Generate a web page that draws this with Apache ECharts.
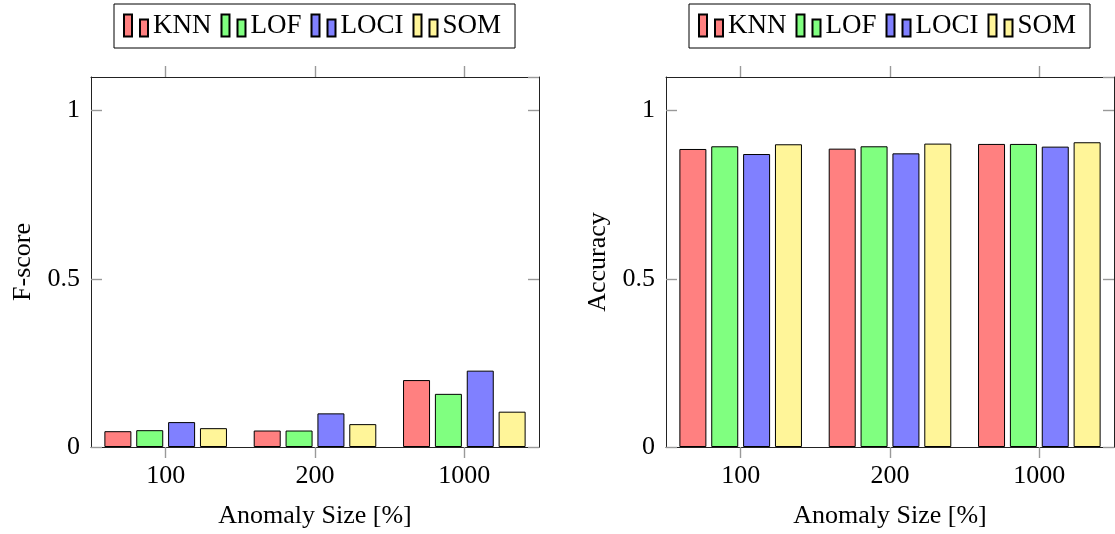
<!DOCTYPE html>
<html>
<head>
<meta charset="utf-8">
<script src="https://cdn.jsdelivr.net/npm/echarts@6/dist/echarts.min.js"></script>
<style>
html,body{margin:0;padding:0;background:#fff;}
#chart{width:1115px;height:534px;}
</style>
</head>
<body>
<div id="chart"></div>
<script>
const categories = ['100', '200', '1000'];
const seriesNames = ['KNN', 'LOF', 'LOCI', 'SOM'];
const seriesColors = ['#ff8080', '#80ff80', '#8080ff', '#fff599'];
const fscoreKNN  = [0.047, 0.049, 0.199];
const fscoreLOF  = [0.050, 0.049, 0.158];
const fscoreLOCI = [0.074, 0.100, 0.227];
const fscoreSOM  = [0.056, 0.068, 0.105];
const accKNN  = [0.886, 0.887, 0.901];
const accLOF  = [0.894, 0.894, 0.901];
const accLOCI = [0.871, 0.873, 0.893];
const accSOM  = [0.900, 0.902, 0.906];
const yTicksMin = 0, yTicksMax = 1.1, yTickStep = 0.5;
const xAxisTitle = 'Anomaly Size [%]';
const yTitles = ['F-score', 'Accuracy'];

const FONT = '"Liberation Serif", "DejaVu Serif", serif';
const FS = 26;
const TICK = {color: '#999', width: 1.4};
const panels = [
  {left: 91, data: [fscoreKNN, fscoreLOF, fscoreLOCI, fscoreSOM]},
  {left: 666, data: [accKNN, accLOF, accLOCI, accSOM]}
];
const legendIcon = 'path://M0,0 H8 V22 H0 Z M16,5 H24 V22 H16 Z';

const grid = [], xAxis = [], yAxis = [], series = [], legend = [];
panels.forEach((p, i) => {
  grid.push({left: p.left, top: 77, width: 448, height: 370, containLabel: false});
  xAxis.push({
    type: 'category', gridIndex: i, data: categories, position: 'bottom',
    name: xAxisTitle, nameLocation: 'middle', nameGap: 56,
    nameTextStyle: {fontFamily: FONT, fontSize: FS, color: '#000'},
    axisLine: {onZero: false, lineStyle: {color: '#222', width: 1}},
    axisTick: {show: true, alignWithLabel: true, interval: 0, inside: false, length: 11, lineStyle: TICK},
    axisLabel: {fontFamily: FONT, fontSize: FS, color: '#000', margin: 16, interval: 0},
    splitLine: {show: false}
  });
  xAxis.push({
    type: 'category', gridIndex: i, data: categories, position: 'top',
    axisLine: {onZero: false, lineStyle: {color: '#222', width: 1}},
    axisTick: {show: true, alignWithLabel: true, interval: 0, inside: false, length: 11, lineStyle: TICK},
    axisLabel: {show: true, interval: 0, color: 'rgba(0,0,0,0)', fontSize: 10},
    splitLine: {show: false}
  });
  yAxis.push({
    type: 'value', gridIndex: i, position: 'left', min: yTicksMin, max: yTicksMax, interval: yTickStep,
    name: yTitles[i], nameLocation: 'middle', nameGap: 55, nameRotate: 90,
    nameTextStyle: {fontFamily: FONT, fontSize: FS, color: '#000'},
    axisLine: {show: true, onZero: false, lineStyle: {color: '#222', width: 1}},
    axisTick: {show: true, inside: true, length: 11, lineStyle: TICK},
    axisLabel: {fontFamily: FONT, fontSize: FS, color: '#000', margin: 11, showMaxLabel: false},
    splitLine: {show: false}
  });
  yAxis.push({
    type: 'value', gridIndex: i, position: 'right', min: yTicksMin, max: yTicksMax, interval: yTickStep,
    axisLine: {show: true, onZero: false, lineStyle: {color: '#222', width: 1}},
    axisTick: {show: true, inside: true, length: 11, lineStyle: TICK},
    axisLabel: {show: false},
    splitLine: {show: false}
  });
  seriesNames.forEach((name, k) => {
    series.push({
      type: 'bar', name: name,
      xAxisIndex: i * 2, yAxisIndex: i * 2,
      data: p.data[k],
      barWidth: 27, barGap: '18%',
      itemStyle: {color: seriesColors[k], borderColor: '#000', borderWidth: 1},
      emphasis: {disabled: true},
      animation: false
    });
  });
  legend.push({
    left: p.left + 23, top: 4,
    data: seriesNames.map(n => ({name: n, icon: legendIcon})),
    itemWidth: 24, itemHeight: 22, itemGap: 9,
    padding: [8, 14, 9, 9],
    borderColor: '#000', borderWidth: 1,
    textStyle: {fontFamily: FONT, fontSize: 27, color: '#000', lineHeight: 26},
    selectedMode: false
  });
});

const chart = echarts.init(document.getElementById('chart'), null, {renderer: 'canvas'});
chart.setOption({
  animation: false,
  color: seriesColors,
  grid: grid, xAxis: xAxis, yAxis: yAxis, series: series, legend: legend
});
</script>
</body>
</html>
